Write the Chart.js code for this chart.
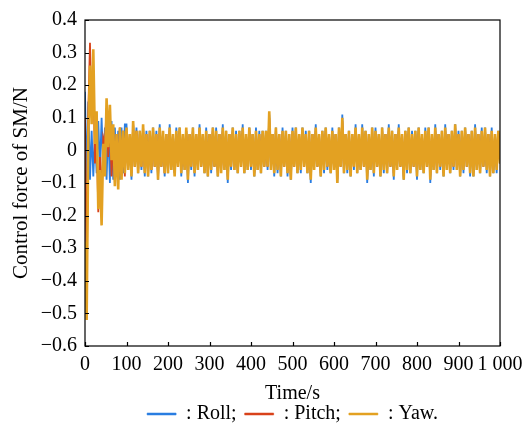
<!DOCTYPE html>
<html>
<head>
<meta charset="utf-8">
<script src="https://cdn.jsdelivr.net/npm/chart.js@4.4.1/dist/chart.umd.min.js"></script>
<style>
  html, body { margin: 0; padding: 0; background: #fff; }
  #wrap { width: 526px; height: 428px; }
</style>
</head>
<body>
<div id="wrap"><canvas id="chart" width="526" height="428"></canvas></div>
<script>
// sample spacing of the curves, seconds
const STEP = 4;

const seriesNames = [': Roll;', ': Pitch;', ': Yaw.'];
const xTicks = [0, 100, 200, 300, 400, 500, 600, 700, 800, 900, 1000];
const yTicks = [-0.6, -0.5, -0.4, -0.3, -0.2, -0.1, 0, 0.1, 0.2, 0.3, 0.4];

// Roll (blue)
const roll = [
  0.18,-.10,.15,-.09,.06,-.08,.05,-.07,.09,-.06,.10,-.05,.07,-.09,.08,-.10,.09,-.09,.07,-.08,.06,-.09,.07,-.07,.08,
  .08,-.06,.05,-.09,.08,-.05,.07,-.07,.06,-.06,
  .07,-.08,.06,-.08,.06,-.07,.07,-.05,.06,-.09,
  .08,-.05,.05,-.08,.05,-.07,.08,-.06,.05,-.07,
  .07,-.05,.07,-.08,.05,-.06,.06,-.10,.05,-.06,
  .07,-.08,.05,-.06,.08,-.05,.05,-.07,.07,-.08,
  .05,-.07,.07,-.05,.07,-.08,.05,-.06,.08,-.06,
  .06,-.10,.05,-.06,.07,-.06,.06,-.07,.06,-.05,
  .08,-.07,.05,-.06,.07,-.06,.05,-.08,.07,-.06,
  .06,-.07,.06,-.05,.06,-.06,.11,-.06,.05,-.08,
  .07,-.07,.05,-.08,.07,-.05,.06,-.08,.05,-.09,
  .07,-.05,.07,-.07,.05,-.07,.07,-.05,.06,-.07,
  .06,-.10,.05,-.06,.08,-.05,.05,-.08,.06,-.07,
  .07,-.06,.05,-.07,.07,-.06,.05,-.10,.07,-.05,
  .11,-.07,.05,-.07,.06,-.08,.05,-.06,.08,-.07,
  .05,-.06,.08,-.05,.06,-.10,.05,-.06,.07,-.08,
  .07,-.05,.05,-.08,.07,-.07,.05,-.07,.08,-.05,
  .06,-.09,.05,-.06,.08,-.05,.05,-.09,.06,-.07,
  .07,-.07,.06,-.05,.06,-.09,.07,-.06,.05,-.07,
  .07,-.05,.07,-.10,.05,-.06,.08,-.07,.05,-.06,
  .06,-.08,.08,-.06,.05,-.07,.06,-.06,.08,-.06,
  .06,-.08,.06,-.07,.07,-.05,.05,-.08,.06,-.08,
  .08,-.06,.05,-.07,.07,-.05,.07,-.07,.05,-.08,
  .07,-.07,.05,-.07,.06,-.04
];

// Pitch (red)
const pitch = [
  0.10,-.42,.12,.33,.10,.24,-.04,.06,-.19,-.02,-.15,.04,.02,.13,-.02,.09,-.08,.06,-.10,.05,-.07,.07,-.06,.06,-.08,
  .06,-.05,.05,-.07,.08,-.05,.06,-.06,.05,-.05,
  .07,-.06,.05,-.07,.05,-.06,.06,-.05,.05,-.08,
  .06,-.05,.05,-.07,.05,-.06,.06,-.05,.05,-.07,
  .05,-.05,.06,-.06,.05,-.05,.06,-.08,.05,-.05,
  .06,-.06,.05,-.05,.06,-.05,.05,-.06,.05,-.07,
  .05,-.05,.06,-.05,.05,-.07,.05,-.06,.06,-.05,
  .05,-.08,.05,-.05,.06,-.05,.05,-.06,.05,-.05,
  .06,-.06,.05,-.05,.06,-.05,.05,-.07,.05,-.05,
  .05,-.06,.05,-.05,.05,-.05,.10,-.05,.05,-.06,
  .06,-.05,.05,-.07,.05,-.05,.05,-.06,.05,-.08,
  .05,-.05,.06,-.06,.05,-.05,.06,-.05,.05,-.06,
  .05,-.08,.05,-.05,.06,-.05,.05,-.07,.05,-.05,
  .06,-.05,.05,-.06,.05,-.05,.05,-.09,.06,-.05,
  .09,-.06,.05,-.05,.05,-.07,.05,-.05,.06,-.06,
  .05,-.05,.06,-.05,.05,-.08,.05,-.05,.06,-.06,
  .05,-.05,.05,-.07,.06,-.05,.05,-.06,.06,-.05,
  .05,-.07,.05,-.05,.06,-.05,.05,-.08,.05,-.05,
  .06,-.06,.05,-.05,.05,-.07,.06,-.05,.05,-.06,
  .05,-.05,.06,-.08,.05,-.05,.06,-.06,.05,-.05,
  .05,-.07,.06,-.05,.05,-.06,.05,-.05,.07,-.05,
  .05,-.07,.05,-.05,.06,-.05,.05,-.06,.05,-.07,
  .06,-.05,.05,-.06,.05,-.05,.06,-.05,.05,-.07,
  .05,-.06,.05,-.05,.05,-.03
];

// Yaw (orange)
const yaw = [
  -0.28,-.52,.05,.26,.08,.31,.02,.12,-.18,-.06,-.23,.02,-.08,.16,.01,.14,-.03,.08,-.11,.05,-.12,.07,-.09,.06,-.07,
  .07,-.06,.05,-.08,.09,-.05,.06,-.07,.06,-.05,
  .08,-.07,.05,-.08,.06,-.06,.07,-.05,.05,-.09,
  .07,-.05,.06,-.07,.05,-.07,.07,-.06,.05,-.08,
  .06,-.05,.07,-.07,.05,-.06,.07,-.09,.05,-.05,
  .07,-.07,.05,-.06,.07,-.05,.05,-.07,.06,-.08,
  .05,-.06,.07,-.05,.06,-.08,.05,-.07,.07,-.06,
  .06,-.09,.05,-.05,.07,-.06,.05,-.07,.06,-.05,
  .07,-.07,.05,-.06,.07,-.05,.05,-.08,.06,-.06,
  .05,-.07,.06,-.05,.06,-.05,.12,-.06,.05,-.07,
  .07,-.06,.05,-.08,.06,-.05,.06,-.07,.05,-.09,
  .06,-.05,.07,-.07,.05,-.06,.07,-.05,.05,-.07,
  .06,-.09,.05,-.06,.07,-.05,.05,-.08,.06,-.06,
  .07,-.05,.05,-.07,.06,-.06,.05,-.10,.07,-.05,
  .10,-.07,.05,-.06,.06,-.08,.05,-.05,.07,-.07,
  .05,-.06,.07,-.05,.06,-.09,.05,-.06,.07,-.07,
  .06,-.05,.05,-.08,.07,-.06,.05,-.07,.07,-.05,
  .06,-.08,.05,-.06,.07,-.05,.05,-.09,.06,-.06,
  .07,-.07,.05,-.05,.06,-.08,.07,-.06,.05,-.07,
  .06,-.05,.07,-.09,.05,-.06,.07,-.07,.05,-.05,
  .06,-.08,.07,-.06,.05,-.07,.06,-.05,.08,-.06,
  .05,-.08,.06,-.06,.07,-.05,.05,-.07,.06,-.08,
  .07,-.06,.05,-.07,.06,-.05,.07,-.06,.05,-.08,
  .06,-.07,.05,-.06,.06,-.04
];

const colors = ['#2a7de1', '#d8431b', '#e3a122'];
const widths = [1.8, 1.8, 2.6];
const FONT = 'Liberation Serif, Times New Roman, serif';

function toPoints(arr) {
  return arr.map((v, i) => ({ x: i * STEP, y: v }));
}

function fmtY(v) {
  const r = Math.round(v * 10) / 10;
  if (r === 0) return '0';
  return (r < 0 ? '\u2212' : '') + Math.abs(r).toFixed(1);
}

// box round the plot + inward tick marks; legend centred under the plot
const frame = {
  id: 'frame',
  afterLayout(chart) {
    const lg = chart.legend, a = chart.chartArea, xs = chart.scales.x;
    const h = lg.bottom - lg.top;
    lg.left = a.left;
    lg.right = a.right;
    lg.top = 414 - 8 - 10;
    lg.bottom = lg.top + h;
    // x title sits just above the legend
    xs.bottom = 406;
    xs.height = xs.bottom - xs.top;
  },
  afterDraw(chart) {
    const { ctx, chartArea: a, scales } = chart;
    ctx.save();
    ctx.strokeStyle = '#000';
    ctx.lineWidth = 1.2;
    ctx.strokeRect(a.left, a.top, a.right - a.left, a.bottom - a.top);
    ctx.beginPath();
    yTicks.forEach(v => {
      const y = Math.round(scales.y.getPixelForValue(v)) + 0.5;
      ctx.moveTo(a.left, y); ctx.lineTo(a.left + 4, y);
    });
    xTicks.forEach(v => {
      const x = Math.round(scales.x.getPixelForValue(v)) + 0.5;
      ctx.moveTo(x, a.bottom); ctx.lineTo(x, a.bottom - 4);
    });
    ctx.stroke();
    ctx.restore();
  }
};

new Chart(document.getElementById('chart'), {
  type: 'line',
  data: {
    datasets: [roll, pitch, yaw].map((arr, i) => ({
      label: seriesNames[i],
      data: toPoints(arr),
      borderColor: colors[i],
      backgroundColor: colors[i],
      borderWidth: widths[i],
      pointRadius: 0,
      tension: 0,
      order: 2 - i
    }))
  },
  options: {
    responsive: false,
    animation: false,
    layout: { padding: { left: 0, right: 26, top: 19, bottom: 0 } },
    plugins: {
      tooltip: { enabled: false },
      legend: {
        position: 'bottom',
        labels: {
          font: { family: FONT, size: 20 },
          color: '#000',
          boxWidth: 29,
          boxHeight: 2,
          padding: 8,
          sort: (a, b) => a.datasetIndex - b.datasetIndex,
          generateLabels: chart => {
            const items = Chart.defaults.plugins.legend.labels.generateLabels(chart);
            items.forEach(it => { it.lineWidth = 0.5; });
            return items;
          }
        }
      }
    },
    scales: {
      x: {
        type: 'linear',
        min: 0,
        max: 1000,
        afterBuildTicks: s => { s.ticks = xTicks.map(v => ({ value: v })); },
        afterFit: s => {
          const lh = s.chart.legend ? s.chart.legend.height : 0;
          s.height = 82 - lh;
          s.paddingLeft = 0;
          s.paddingRight = 0;
        },
        grid: { display: false, drawTicks: false },
        border: { display: false },
        ticks: {
          autoSkip: false,
          maxRotation: 0,
          padding: 7,
          color: '#000',
          font: { family: FONT, size: 20 },
          callback: v => (v === 1000 ? '1 000' : String(v))
        },
        title: {
          display: true,
          text: 'Time/s',
          color: '#000',
          font: { family: FONT, size: 20 },
          padding: { top: 0, bottom: 0 }
        }
      },
      y: {
        min: -0.6,
        max: 0.4,
        afterBuildTicks: s => { s.ticks = yTicks.map(v => ({ value: v })); },
        afterFit: s => { s.width = 85; },
        grid: { display: false, drawTicks: false },
        border: { display: false },
        ticks: {
          padding: 8,
          color: '#000',
          font: { family: FONT, size: 20 },
          callback: v => fmtY(v)
        },
        title: {
          display: true,
          text: 'Control force of SM/N',
          color: '#000',
          font: { family: FONT, size: 21 },
          padding: { top: 9, bottom: 0 }
        }
      }
    }
  },
  plugins: [frame]
});
</script>
</body>
</html>
